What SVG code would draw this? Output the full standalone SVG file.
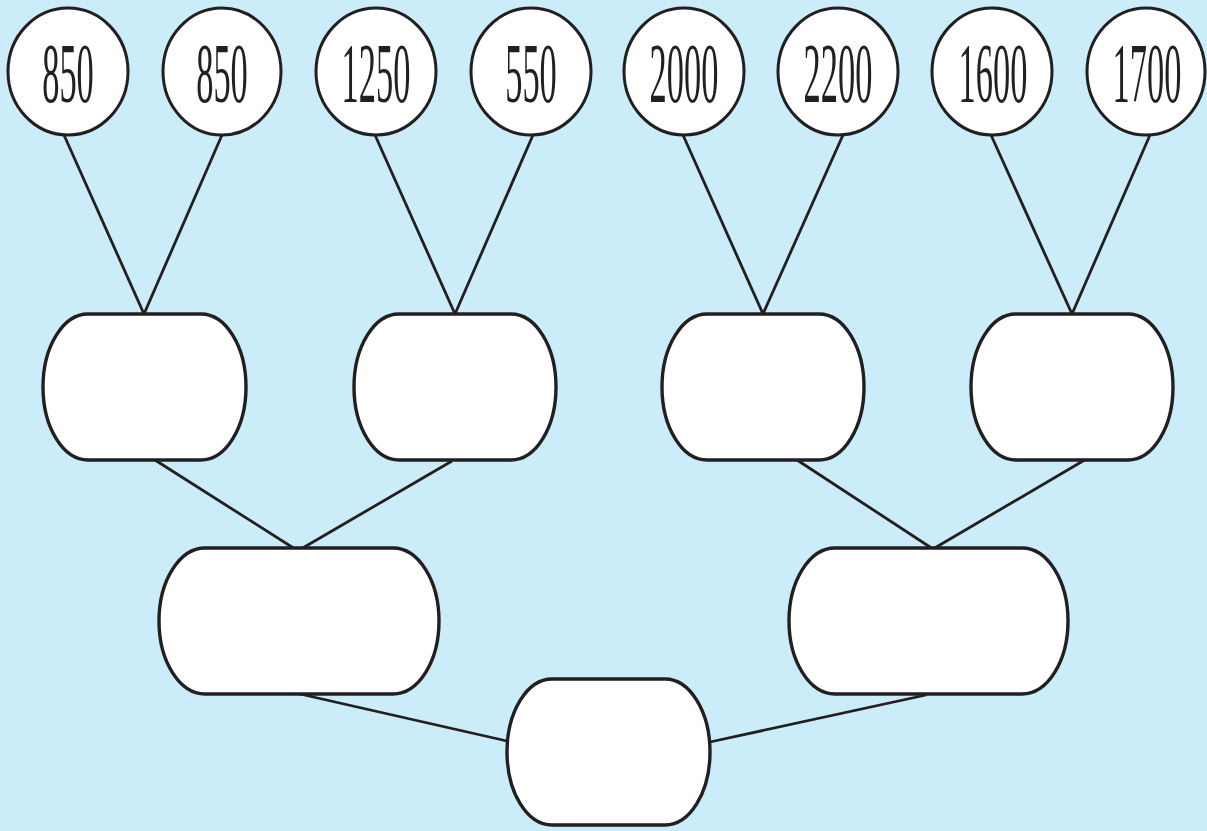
<svg xmlns="http://www.w3.org/2000/svg" width="1207" height="831" viewBox="0 0 1207 831">
<style>
.c{fill:#ffffff;stroke:#231f20;stroke-width:3}
.b{fill:#ffffff;stroke:#231f20;stroke-width:3.4}
.l{stroke:#231f20;stroke-width:2.8;fill:none}
.t{font-family:'Liberation Serif','Times New Roman',Times,serif;font-size:84px;fill:#231f20;text-anchor:middle}
</style>
<rect x="0" y="0" width="1207" height="831" fill="#cbedf9"/>
<g id="connectors">
<line class="l" x1="64" y1="135" x2="144" y2="314"/>
<line class="l" x1="222" y1="135" x2="144" y2="314"/>
<line class="l" x1="375" y1="135" x2="455" y2="314"/>
<line class="l" x1="533" y1="135" x2="455" y2="314"/>
<line class="l" x1="683" y1="135" x2="763" y2="314"/>
<line class="l" x1="843" y1="135" x2="763" y2="314"/>
<line class="l" x1="991" y1="135" x2="1072" y2="314"/>
<line class="l" x1="1150" y1="135" x2="1072" y2="314"/>
<line class="l" x1="155" y1="460" x2="295" y2="549"/>
<line class="l" x1="452" y1="461" x2="301" y2="549"/>
<line class="l" x1="794" y1="458" x2="933" y2="549"/>
<line class="l" x1="1088" y1="458" x2="933" y2="549"/>
<line class="l" x1="300" y1="694" x2="507" y2="741"/>
<line class="l" x1="926" y1="695" x2="710" y2="742"/>
</g>
<g id="n850a"><ellipse class="c" cx="68" cy="71.5" rx="60" ry="63.5"/><text class="t" transform="translate(68,102) scale(0.41,1)">850</text></g>
<g id="n850b"><ellipse class="c" cx="222" cy="71.5" rx="59" ry="63.5"/><text class="t" transform="translate(222,102) scale(0.41,1)">850</text></g>
<g id="n1250"><ellipse class="c" cx="376" cy="71.5" rx="60" ry="63.5"/><text class="t" transform="translate(376,102) scale(0.41,1)">1250</text></g>
<g id="n550"><ellipse class="c" cx="531" cy="71.5" rx="60" ry="63.5"/><text class="t" transform="translate(531,102) scale(0.41,1)">550</text></g>
<g id="n2000"><ellipse class="c" cx="684" cy="71.5" rx="60" ry="63.5"/><text class="t" transform="translate(684,102) scale(0.41,1)">2000</text></g>
<g id="n2200"><ellipse class="c" cx="838" cy="71.5" rx="60" ry="63.5"/><text class="t" transform="translate(838,102) scale(0.41,1)">2200</text></g>
<g id="n1600"><ellipse class="c" cx="992" cy="71.5" rx="60" ry="63.5"/><text class="t" transform="translate(993,102) scale(0.41,1)">1600</text></g>
<g id="n1700"><ellipse class="c" cx="1146" cy="71.5" rx="59" ry="63.5"/><text class="t" transform="translate(1147,102) scale(0.41,1)">1700</text></g>
<g id="m1"><rect class="b" x="43" y="314" width="203" height="146" rx="45" ry="73"/></g>
<g id="m2"><rect class="b" x="354" y="314" width="202" height="146" rx="45" ry="73"/></g>
<g id="m3"><rect class="b" x="662" y="314" width="202" height="146" rx="45" ry="73"/></g>
<g id="m4"><rect class="b" x="971" y="314" width="202" height="146" rx="45" ry="73"/></g>
<g id="s1"><rect class="b" x="159" y="548" width="280" height="146" rx="46" ry="73"/></g>
<g id="s2"><rect class="b" x="789" y="548" width="279" height="146" rx="46" ry="73"/></g>
<g id="f"><rect class="b" x="507" y="679" width="203" height="146" rx="45" ry="73"/></g>
</svg>
